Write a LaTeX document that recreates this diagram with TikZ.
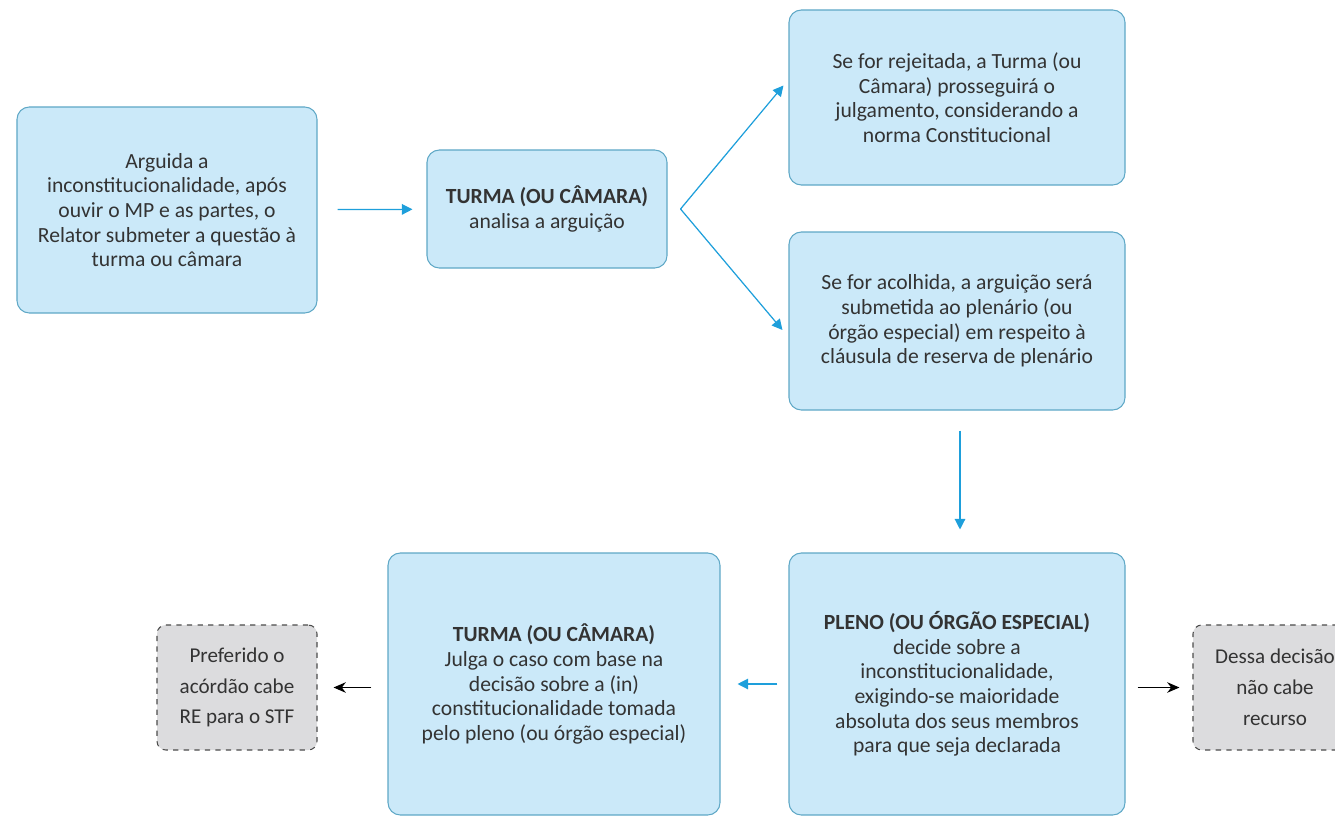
\documentclass[tikz,border=0pt]{standalone}
\usepackage{fontspec}
\setmainfont{Carlito}
\usetikzlibrary{arrows.meta, calc}
\definecolor{boxfill}{HTML}{CBE9F9}
\definecolor{boxline}{HTML}{5FA8C6}
\definecolor{flowblue}{HTML}{1E9FDB}
\definecolor{greyfill}{HTML}{DCDCDE}
\definecolor{txt}{HTML}{333333}

\begin{document}
\begin{tikzpicture}[
    every node/.style={font=\fontsize{12.3}{14}\selectfont, text=txt, align=center},
    box/.style={draw=boxline, line width=0.6pt, fill=boxfill, rounded corners=7pt},
    greybox/.style={draw=black!70, dashed, line width=0.6pt, fill=greyfill, rounded corners=5pt,
        font=\fontsize{12}{17.5}\selectfont},
    flow/.style={draw=flowblue, line width=0.7pt, -{Triangle[length=6pt, width=6pt]}},
    blk/.style={draw=black, line width=0.7pt, -{Stealth[length=7pt, width=6pt]}}]
    \useasboundingbox (0,0) rectangle (26.7,-16.34);

    \node[box, minimum width=6cm, minimum height=4.12cm] (arg) at (3.34,-4.2) {
        Arguida a\\
        inconstitucionalidade, após\\
        ouvir o MP e as partes, o\\
        Relator submeter a questão à\\
        turma ou câmara};
    \node[box, minimum width=4.8cm, minimum height=2.36cm] (turma) at (10.94,-4.18) {
        \textbf{TURMA (OU CÂMARA)}\\
        analisa a arguição};
    \node[box, minimum width=6.72cm, minimum height=3.5cm] (rej) at (19.14,-1.95) {
        Se for rejeitada, a Turma (ou\\
        Câmara) prosseguirá o\\
        julgamento, considerando a\\
        norma Constitucional};
    \node[box, minimum width=6.72cm, minimum height=3.56cm] (acol) at (19.14,-6.42) {
        Se for acolhida, a arguição será\\
        submetida ao plenário (ou\\
        órgão especial) em respeito à\\
        cláusula de reserva de plenário};
    \node[box, minimum width=6.72cm, minimum height=5.24cm] (pleno) at (19.14,-13.68) {
        \textbf{PLENO (OU ÓRGÃO ESPECIAL)}\\
        decide sobre a\\
        inconstitucionalidade,\\
        exigindo-se maioridade\\
        absoluta dos seus membros\\
        para que seja declarada};
    \node[box, minimum width=6.64cm, minimum height=5.24cm] (julga) at (11.08,-13.68) {
        \textbf{TURMA (OU CÂMARA)}\\
        Julga o caso com base na\\
        decisão sobre a (in)\\
        constitucionalidade tomada\\
        pelo pleno (ou órgão especial)};

    % saídas finais
    \node[greybox, minimum width=3.2cm, minimum height=2.5cm] (recurso) at (4.74,-13.75) {
        Preferido o\\
        acórdão cabe\\
        RE para o STF};
    \node[greybox, minimum width=3.28cm, minimum height=2.5cm] (final) at (25.5,-13.75) {
        Dessa decisão\\
        não cabe\\
        recurso};

    \coordinate (fork) at ([xshift=0.26cm]turma.east);

    \draw[flow, shorten <=0.4cm, shorten >=0.28cm] (arg) -- (turma);
    \draw[flow] (fork) -- ([shift={(-0.1,0.24)}]rej.west);
    \draw[flow] (fork) -- ([shift={(-0.12,-0.18)}]acol.west);
    \draw[flow, shorten <=0.4cm, shorten >=0.46cm] ([xshift=0.06cm]acol.south) -- ([xshift=0.06cm]pleno.north);
    \draw[flow, shorten <=0.22cm, shorten >=0.34cm] (pleno) -- (julga);
    \draw[blk, shorten <=0.32cm, shorten >=0.32cm] (julga.west |- recurso.east) -- (recurso.east);
    \draw[blk, shorten <=0.24cm, shorten >=0.26cm] (pleno.east |- final.west) -- (final.west);
\end{tikzpicture}
\end{document}
